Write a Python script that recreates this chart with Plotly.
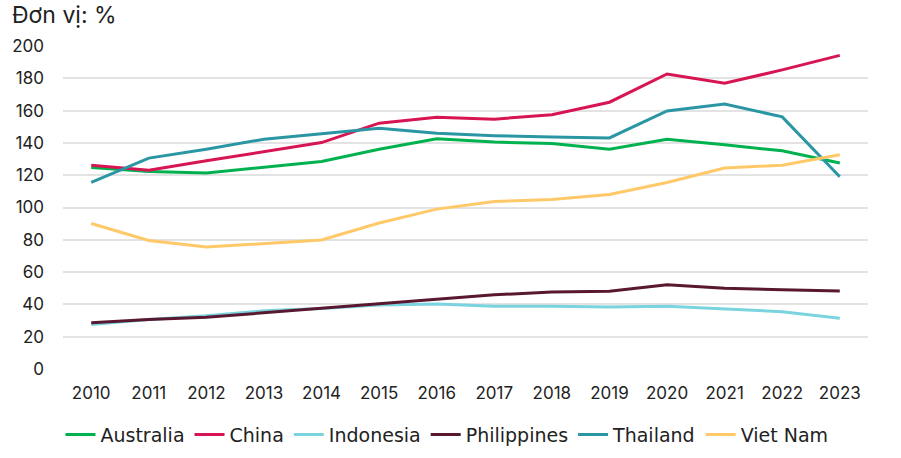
import plotly.graph_objects as go

years = list(range(2010, 2024))
australia = [124.8, 122.3, 121.3, 124.8, 128.5, 136.1, 142.5, 140.5, 139.6, 136.1, 142.3, 138.8, 135.1, 127.5]
china = [126.2, 123.1, 128.9, 134.7, 140.2, 152.2, 155.9, 154.7, 157.5, 165.2, 182.7, 176.9, 185.2, 194.2]
indonesia = [27.5, 30.6, 33.0, 36.0, 37.4, 39.7, 40.3, 38.8, 38.8, 38.4, 38.8, 37.2, 35.5, 31.4]
philippines = [28.6, 30.6, 32.0, 34.7, 37.8, 40.3, 43.0, 45.9, 47.7, 48.1, 52.2, 50.0, 49.0, 48.3]
thailand = [115.5, 130.6, 136.1, 142.3, 145.6, 149.1, 146.0, 144.5, 143.7, 143.1, 159.8, 164.1, 156.1, 119.0]
vietnam = [90.1, 79.6, 75.5, 77.6, 79.9, 90.4, 99.0, 103.7, 105.0, 108.1, 115.5, 124.4, 126.2, 132.6]

series = [
    ("Australia", australia, "#00b14f"),
    ("China", china, "#d81553"),
    ("Indonesia", indonesia, "#7ad3df"),
    ("Philippines", philippines, "#5a1730"),
    ("Thailand", thailand, "#2a96a3"),
    ("Viet Nam", vietnam, "#ffc96a"),
]

fig = go.Figure()
for name, vals, color in series:
    fig.add_trace(go.Scatter(x=years, y=vals, name=name, mode="lines",
                             line=dict(color=color, width=3)))

font_family = "Inter, Lato, sans-serif"
fig.update_layout(
    width=901, height=458,
    margin=dict(l=63, r=33, t=46, b=89, autoexpand=False),
    paper_bgcolor="white", plot_bgcolor="white",
    font=dict(family=font_family, size=17, color="#222222"),
    title=dict(text="Đơn vị: %", x=12/901, xanchor="left", xref="container",
               y=1-15/458, yanchor="middle", yref="container",
               font=dict(size=23, color="#222222", family=font_family)),
    xaxis=dict(range=[2009.51, 2023.49], tickvals=years, ticktext=[str(y) for y in years],
               showgrid=False, zeroline=False, showline=False, ticks="",
               tickfont=dict(size=17, family=font_family), ticklabelstandoff=12,
               automargin=False),
    yaxis=dict(range=[0, 200], tickvals=list(range(0, 201, 20)),
               showgrid=True, gridcolor="#e3e3e3", gridwidth=1.5,
               zeroline=False, showline=False, ticks="",
               tickfont=dict(size=17, family=font_family), ticklabelstandoff=18,
               automargin=False),
    legend=dict(orientation="h", x=0.477, xanchor="center", y=-0.203, yanchor="middle",
                font=dict(size=19, family="DejaVu Sans, sans-serif"), itemwidth=30,
                tracegroupgap=0),
    showlegend=True,
)

fig.write_html("out.html", config={"displayModeBar": False},
               post_script="document.body.style.margin='0';document.body.style.overflow='hidden';")
